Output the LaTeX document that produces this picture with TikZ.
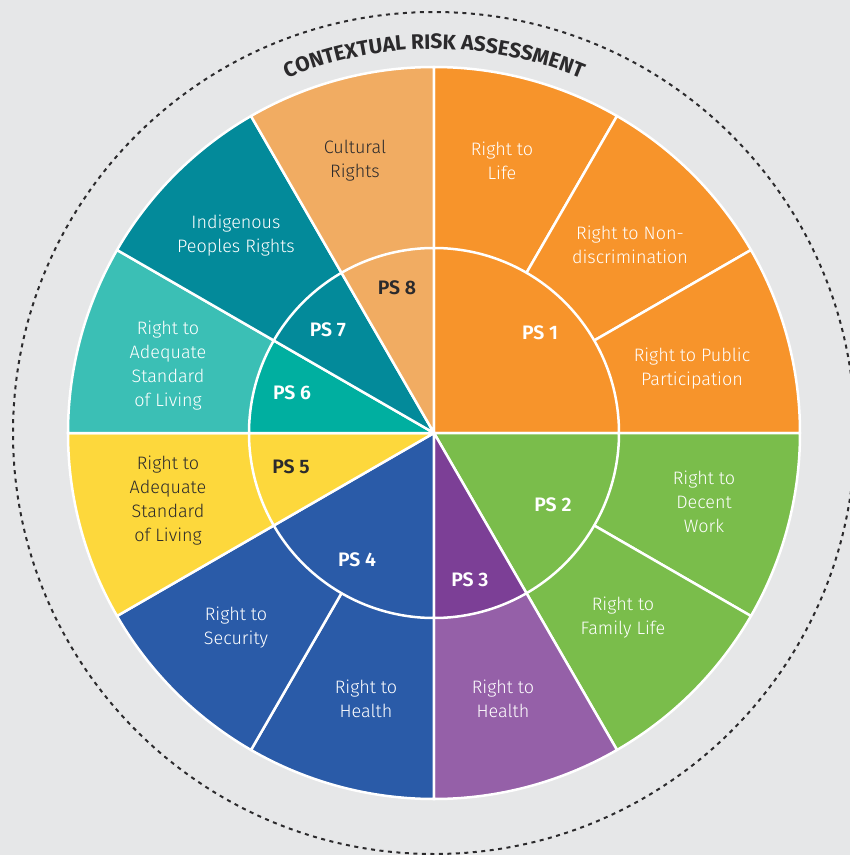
\documentclass[tikz,border=0pt]{standalone}
\usepackage{fontspec}
\setmainfont{Fira Sans}[UprightFont=* Light, BoldFont=* SemiBold]
\newfontfamily\titlefont{Fira Sans}[UprightFont=* Bold]
\usetikzlibrary{decorations.text}
\definecolor{bggray}{HTML}{E6E7E8}
\definecolor{inkdark}{HTML}{2B2A2C}
\definecolor{psorange}{HTML}{F7942B}
\definecolor{pslightorange}{HTML}{F1AC62}
\definecolor{psgreen}{HTML}{7ABD4B}
\definecolor{pspurplelight}{HTML}{9560A8}
\definecolor{pspurpledark}{HTML}{7C3F96}
\definecolor{psblue}{HTML}{2A5BA8}
\definecolor{psyellow}{HTML}{FDD83C}
\definecolor{pstealight}{HTML}{3BBFB5}
\definecolor{pstealmid}{HTML}{00AFA0}
\definecolor{pstealdark}{HTML}{038A9A}
\tikzset{
  seg/.style={draw=white, line width=2.5pt, line join=round},
  lbl/.style={align=center, text=white, inner sep=0pt,
              font=\fontsize{18}{24}\selectfont},
  pslbl/.style={text=white, inner sep=0pt, font=\bfseries\fontsize{19.5}{22}\selectfont},
  dark/.style={text=inkdark},
}
\begin{document}
\begin{tikzpicture}[x=1pt, y=1pt]
  \def\outR{366}
  \def\inR{185}
  \fill[bggray] (-434,-422) rectangle (416,433);
  \useasboundingbox (-434,-422) rectangle (416,433);

  \draw[inkdark, line width=2pt, dash pattern=on 4pt off 4.5pt] (0,0) circle[radius=421];

  % outer ring
  \foreach \a/\b/\col in {60/90/psorange, 30/60/psorange, 0/30/psorange,
      -30/0/psgreen, -60/-30/psgreen, -90/-60/pspurplelight,
      -120/-90/psblue, -150/-120/psblue, 180/210/psyellow,
      150/180/pstealight, 120/150/pstealdark, 90/120/pslightorange}
    \filldraw[seg, fill=\col] (0,0) -- (\a:\outR) arc[start angle=\a, end angle=\b, radius=\outR] -- cycle;

  % inner ring
  \foreach \a/\b/\col in {0/90/psorange, -60/0/psgreen, -90/-60/pspurpledark,
      -150/-90/psblue, 180/210/psyellow, 150/180/pstealmid,
      120/150/pstealdark, 90/120/pslightorange}
    \filldraw[seg, fill=\col] (0,0) -- (\a:\inR) arc[start angle=\a, end angle=\b, radius=\inR] -- cycle;

  \path[decorate, decoration={text along path, text align=center,
      text color=inkdark, text={|\titlefont\fontsize{21}{24}\selectfont|CONTEXTUAL RISK ASSESSMENT}}]
    (114:384) arc[start angle=114, end angle=66, radius=384];

  \node[lbl] (life) at (68,272) {Right to\\Life};
  \node[lbl] (nondisc) at (196,188) {Right to Non-\\discrimination};
  \node[lbl] (public) at (258,64) {Right to Public\\Participation};
  \node[lbl] (work) at (270,-69) {Right to\\Decent\\Work};
  \node[lbl] (family) at (189,-185) {Right to\\Family Life};
  \node[lbl] (healthA) at (69,-266) {Right to\\Health};
  \node[lbl] (healthB) at (-68,-266) {Right to\\Health};
  \node[lbl] (security) at (-198,-195) {Right to\\Security};
  \node[lbl, dark] (livingA) at (-266,-68) {Right to\\Adequate\\Standard\\of Living};
  \node[lbl] (livingB) at (-266,67) {Right to\\Adequate\\Standard\\of Living};
  \node[lbl] (indig) at (-198,197) {Indigenous\\Peoples Rights};
  \node[lbl, dark] (culture) at (-79,272) {Cultural\\Rights};

  \node[pslbl] (ps1) at (106,100) {PS 1};
  \node[pslbl] (ps2) at (119,-72) {PS 2};
  \node[pslbl] (ps3) at (36,-147) {PS 3};
  \node[pslbl] (ps4) at (-77,-127) {PS 4};
  \node[pslbl, dark] (ps5) at (-143,-34) {PS 5};
  \node[pslbl] (ps6) at (-142,40) {PS 6};
  \node[pslbl] (ps7) at (-106,103) {PS 7};
  \node[pslbl, dark] (ps8) at (-37,145) {PS 8};
\end{tikzpicture}
\end{document}
